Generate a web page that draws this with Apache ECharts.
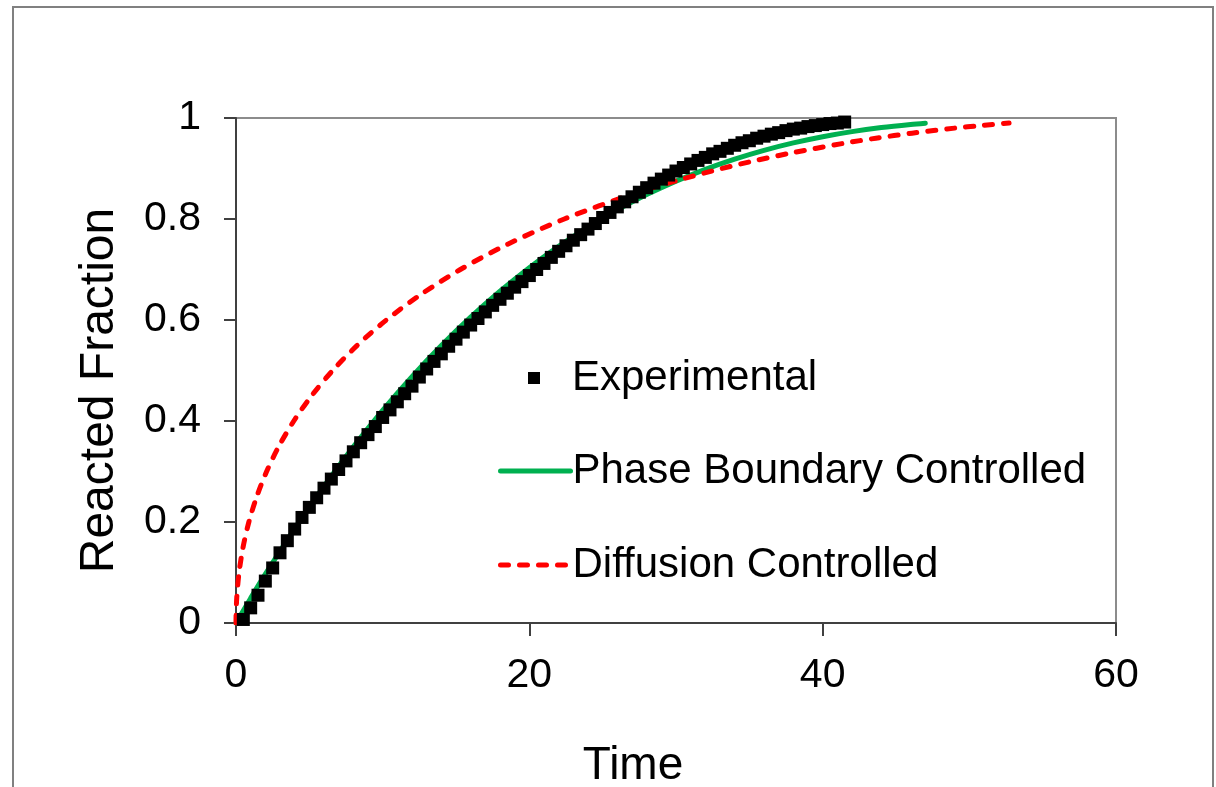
<!DOCTYPE html>
<html>
<head>
<meta charset="utf-8">
<script src="https://cdn.jsdelivr.net/npm/echarts@6/dist/echarts.min.js"></script>
<style>
html,body{margin:0;padding:0;background:#fff;}
#chart{width:1216px;height:787px;}
</style>
</head>
<body>
<div id="chart"></div>
<script>
const xTicks = [0, 20, 40, 60];
const yTicks = [0, 0.2, 0.4, 0.6, 0.8, 1];
const seriesNames = ['Experimental', 'Phase Boundary Controlled', 'Diffusion Controlled'];

const expTime = [0.5,1,1.5,2,2.5,3,3.5,4,4.5,5,5.5,6,6.5,7,7.5,8,8.5,9,9.5,10,10.5,11,11.5,12,12.5,13,13.5,14,14.5,15,15.5,16,16.5,17,17.5,18,18.5,19,19.5,20,20.5,21,21.5,22,22.5,23,23.5,24,24.5,25,25.5,26,26.5,27,27.5,28,28.5,29,29.5,30,30.5,31,31.5,32,32.5,33,33.5,34,34.5,35,35.5,36,36.5,37,37.5,38,38.5,39,39.5,40,40.5,41,41.5];
const expFraction = [0.007,0.030,0.055,0.083,0.109,0.139,0.163,0.186,0.209,0.229,0.248,0.267,0.285,0.304,0.321,0.339,0.357,0.373,0.389,0.407,0.422,0.438,0.454,0.469,0.487,0.503,0.518,0.533,0.548,0.562,0.576,0.590,0.603,0.616,0.629,0.641,0.653,0.665,0.676,0.688,0.700,0.712,0.724,0.736,0.747,0.758,0.769,0.780,0.791,0.803,0.813,0.824,0.834,0.844,0.853,0.862,0.871,0.879,0.887,0.895,0.902,0.909,0.916,0.922,0.929,0.934,0.940,0.946,0.951,0.955,0.960,0.964,0.968,0.971,0.975,0.978,0.980,0.983,0.985,0.987,0.989,0.990,0.992];

const phaseTime = [0,1,2,4,6,8,10,12,14,16,18,20,22,24,26,28,30,32,34,36,38,40,42,44,46,47];
const phaseFraction = [0,0.0492,0.0967,0.187,0.271,0.349,0.4213,0.488,0.5494,0.6056,0.657,0.7037,0.746,0.784,0.818,0.8483,0.875,0.8984,0.9186,0.936,0.9507,0.963,0.973,0.981,0.9873,0.9898];

const diffTime = [0,0.002,0.051,0.209,0.481,0.878,1.41,2.087,2.924,3.941,5.155,6.59,8.271,10.254,12.574,15.295,18.519,22.383,27.114,30.53,33.134,35.31,37.729,41.463,43.63,46.1,49.01,50.72,52.71];
const diffFraction = [0,0.01,0.05,0.1,0.15,0.2,0.25,0.3,0.35,0.4,0.45,0.5,0.55,0.6,0.65,0.7,0.75,0.8,0.85,0.88,0.9,0.915,0.93,0.95,0.96,0.97,0.98,0.985,0.99];

const zip = (a, b) => a.map((v, i) => [v, b[i]]);
const FONT = "'Liberation Sans', Arial, sans-serif";
const GREEN = '#00b050';
const RED = '#ff0000';

const legendText = {fontFamily: FONT, fontSize: 42, color: '#000', lineHeight: 42};

const chart = echarts.init(document.getElementById('chart'), null, {renderer: 'canvas'});
chart.setOption({
  animation: false,
  backgroundColor: '#ffffff',
  textStyle: {fontFamily: FONT, color: '#000'},
  graphic: [{
    type: 'rect', z: -10, silent: true,
    shape: {x: 13, y: 7, width: 1200, height: 820},
    style: {fill: 'none', stroke: '#808080', lineWidth: 2}
  }],
  grid: {left: 236, top: 118, right: 100, bottom: 164, show: true, borderColor: '#8c8c8c', borderWidth: 2, backgroundColor: 'transparent', containLabel: false, outerBoundsMode: 'none'},
  legend: [
    {
      orient: 'vertical', left: 523, top: 352,
      itemWidth: 12, itemHeight: 12,
      textStyle: Object.assign({}, legendText, {padding: [0, 0, 0, 27]}),
      data: [{name: seriesNames[0], icon: 'rect', itemStyle: {color: '#000', opacity: 1}}]
    },
    {
      orient: 'vertical', left: 493, top: 445,
      itemWidth: 70, itemHeight: 14,
      textStyle: Object.assign({}, legendText, {padding: [0, 0, 0, -3]}),
      data: [{name: seriesNames[1], itemStyle: {opacity: 0}, lineStyle: {color: GREEN, width: 5, cap: 'round'}}]
    },
    {
      orient: 'vertical', left: 493, top: 539,
      itemWidth: 70, itemHeight: 14,
      textStyle: Object.assign({}, legendText, {padding: [0, 0, 0, -3]}),
      data: [{name: seriesNames[2], itemStyle: {opacity: 0}, lineStyle: {color: RED, width: 5, type: [8, 11], cap: 'round'}}]
    }
  ],
  xAxis: {
    type: 'value', min: xTicks[0], max: xTicks[xTicks.length - 1], interval: 20,
    name: 'Time', nameLocation: 'middle', nameGap: 120,
    nameTextStyle: {fontFamily: FONT, fontSize: 46, color: '#000', padding: [0, 86, 0, 0]},
    axisLine: {show: true, onZero: false, lineStyle: {color: '#404040', width: 2}},
    axisTick: {show: true, inside: false, length: 13, lineStyle: {color: '#404040', width: 2}},
    axisLabel: {fontFamily: FONT, fontSize: 41, color: '#000', margin: 32},
    splitLine: {show: false}
  },
  yAxis: {
    type: 'value', min: yTicks[0], max: yTicks[yTicks.length - 1], interval: 0.2,
    name: 'Reacted Fraction', nameLocation: 'middle', nameGap: 112,
    nameTextStyle: {fontFamily: FONT, fontSize: 48, color: '#000', padding: [0, 40, 0, 0]},
    axisLine: {show: true, onZero: false, lineStyle: {color: '#404040', width: 2}},
    axisTick: {show: true, inside: false, length: 12, lineStyle: {color: '#404040', width: 2}},
    axisLabel: {fontFamily: FONT, fontSize: 41, color: '#000', margin: 35},
    splitLine: {show: false}
  },
  series: [
    {
      name: seriesNames[0], type: 'scatter', symbol: 'rect', symbolSize: 13, z: 5,
      itemStyle: {color: '#000000', opacity: 1},
      data: zip(expTime, expFraction)
    },
    {
      name: seriesNames[1], type: 'line', showSymbol: false, symbol: 'none', smooth: 0.3, z: 3,
      lineStyle: {color: GREEN, width: 5, cap: 'round'},
      itemStyle: {color: GREEN},
      data: zip(phaseTime, phaseFraction)
    },
    {
      name: seriesNames[2], type: 'line', showSymbol: false, symbol: 'none', smooth: 0.3, z: 3,
      lineStyle: {color: RED, width: 5, type: [8, 11], cap: 'round'},
      itemStyle: {color: RED},
      data: zip(diffTime, diffFraction)
    }
  ]
});
</script>
</body>
</html>
